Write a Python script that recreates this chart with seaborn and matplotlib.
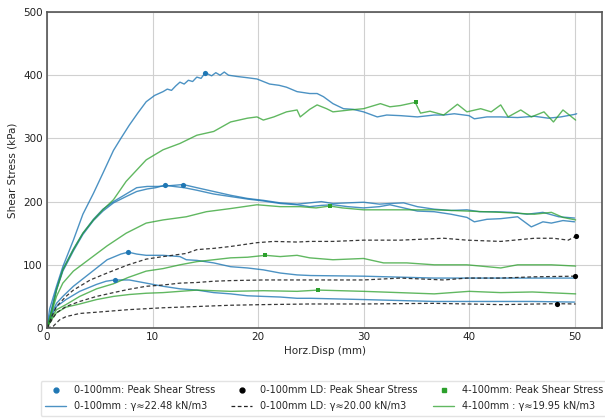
import numpy as np
import pandas as pd
import matplotlib
matplotlib.use("Agg")
import matplotlib.pyplot as plt
import seaborn as sns
from matplotlib.lines import Line2D

# 0-100mm : gamma = 22.48 kN/m3 (blue)
blue_a_x = [0, 0.25, 0.9, 1.5, 2.5, 3.4, 4.4, 5.3, 6.3, 7.0, 7.8, 8.6, 9.4, 10.2, 11.0, 11.4, 11.8, 12.2, 12.6, 13.0,
            13.4, 13.8, 14.2, 14.6, 15.0, 15.6, 16.0, 16.4, 16.8, 17.2, 18.0, 19.0, 19.9, 21.1, 22.0, 22.7, 23.7, 24.9,
            25.6, 26.2, 27.1, 28.1, 29.0, 30.0, 31.3, 32.2, 33.5, 35.1, 36.7, 37.6, 38.6, 40.0, 40.5, 41.7, 43.0,
            44.6, 46.2, 47.5, 48.7, 50.0, 50.2]
blue_a_y = [0, 30, 66, 97, 139, 180, 213, 245, 281, 300, 321, 340, 358, 368, 374, 378, 376, 383, 389, 386,
            392, 390, 397, 395, 404, 399, 404, 400, 405, 400, 398, 396, 394, 386, 384, 381, 374, 371,
            371, 366, 355, 347, 346, 342, 334, 337, 336, 334, 337, 337, 339, 336, 331, 334, 334,
            333, 335, 332, 334, 338, 339]
blue_b_x = [0, 0.9, 1.5, 2.5, 3.4, 4.4, 5.3, 6.3, 7.5, 8.5, 9.5, 10.3, 11.2, 12.0, 13.0, 14.2, 15.8, 17.4, 19.0,
            20.5, 22.1, 23.7, 24.9, 26.0, 27.1, 28.5, 30.0, 31.5, 32.5, 33.8, 35.1, 36.7, 38.3, 39.8, 40.5, 41.7,
            43.0, 44.6, 45.9, 47.0, 47.8, 48.9, 50.0]
blue_b_y = [0, 60, 90, 122, 148, 170, 185, 198, 208, 216, 220, 222, 226, 224, 222, 218, 212, 208, 204,
            201, 197, 195, 192, 194, 195, 192, 190, 192, 195, 190, 185, 184, 180, 175, 168, 172,
            173, 176, 160, 168, 166, 170, 168]
blue_c_x = [0, 0.9, 1.5, 2.5, 3.4, 4.4, 5.3, 6.3, 7.5, 8.5, 9.5, 10.5, 11.5, 12.9, 14.2, 15.8, 17.4, 19.0, 20.5,
            22.1, 23.7, 24.9, 26.0, 27.1, 28.5, 30.0, 31.5, 32.5, 33.8, 35.1, 36.7, 38.3, 39.8, 41.0, 42.5, 44.0,
            45.5, 47.0, 48.5, 50.0]
blue_c_y = [0, 62, 93, 125, 150, 172, 188, 200, 212, 222, 224, 224, 225, 227, 222, 216, 210, 205, 202,
            198, 196, 198, 200, 197, 198, 199, 196, 197, 198, 192, 188, 186, 187, 184, 184, 183,
            180, 183, 176, 174]
blue_d_x = [0, 0.5, 0.9, 1.5, 2.5, 4.1, 5.7, 7.0, 7.7, 8.5, 9.4, 11.0, 12.6, 13.2, 14.2, 15.8, 17.4, 19.0, 20.5,
            22.1, 23.7, 25.0, 30.0, 36.7, 40.0, 46.0, 50.0]
blue_d_y = [0, 25, 39, 50, 66, 87, 108, 117, 120, 117, 115, 115, 113, 108, 107, 103, 97, 95, 92,
            87, 84, 83, 82, 79, 79, 79, 79]
blue_e_x = [0, 0.5, 0.9, 1.8, 3.1, 4.7, 5.6, 6.4, 7.8, 9.4, 11.0, 12.6, 14.2, 15.8, 17.4, 19.0, 20.5, 22.1, 23.7,
            25.0, 30.0, 36.7, 40.0, 46.0, 50.0]
blue_e_y = [0, 22, 34, 45, 58, 69, 74, 76, 76, 71, 66, 62, 60, 56, 54, 51, 50, 49, 47,
            47, 45, 42, 42, 42, 41]
blue_peak_x = [15.0, 11.2, 12.9, 7.7, 6.4]
blue_peak_y = [404, 226, 227, 120, 76]

# 0-100mm LD : gamma = 20.00 kN/m3 (black dashed)
ld_a_x = [0, 0.5, 0.9, 1.8, 2.5, 4.1, 5.7, 7.7, 9.4, 11.0, 13.2, 14.2, 15.8, 17.4, 19.9, 21.5, 23.7, 24.9, 27.1,
          30.0, 33.5, 37.6, 39.8, 43.0, 46.2, 48.0, 49.4, 50.1]
ld_a_y = [0, 20, 34, 50, 60, 76, 87, 100, 109, 113, 118, 124, 126, 129, 135, 137, 136, 137, 137,
          139, 139, 142, 139, 137, 142, 142, 139, 145]
ld_b_x = [0, 0.5, 0.9, 1.8, 3.1, 4.7, 6.3, 7.7, 9.4, 11.0, 12.6, 14.2, 15.8, 17.4, 20.5, 25.0, 30.0, 33.5, 37.6,
          39.8, 43.0, 46.2, 50.0]
ld_b_y = [0, 14, 24, 34, 42, 50, 56, 61, 66, 68, 71, 72, 74, 75, 76, 76, 76, 79, 76,
          79, 79, 81, 82]
ld_c_x = [0, 0.6, 1.2, 1.8, 3.1, 4.7, 7.7, 11.0, 14.2, 17.4, 20.5, 24.9, 30.0, 36.7, 43.0, 48.3, 50.1]
ld_c_y = [0, 3, 13, 18, 23, 25, 29, 32, 34, 36, 37, 38, 38, 39, 37, 38.5, 38]
ld_peak_x = [50.1, 50.0, 48.3]
ld_peak_y = [145, 82, 38.5]

# 4-100mm : gamma = 19.95 kN/m3 (green)
green_a_x = [0, 0.5, 0.9, 1.5, 2.5, 3.4, 4.4, 5.3, 6.3, 7.5, 9.4, 11.0, 12.6, 14.2, 15.8, 17.4, 19.0, 19.9, 20.5,
             21.5, 22.7, 23.7, 24.0, 24.9, 25.6, 26.5, 27.1, 28.7, 30.0, 31.6, 32.5, 33.5, 34.9, 35.4, 36.3, 37.6,
             38.9, 39.8, 41.1, 42.1, 43.0, 43.7, 44.9, 45.9, 47.1, 48.0, 48.9, 49.5, 50.1]
green_a_y = [0, 30, 60, 92, 124, 150, 171, 187, 203, 232, 266, 282, 292, 305, 311, 326, 332, 334, 329,
             334, 342, 345, 334, 346, 353, 347, 342, 345, 347, 355, 350, 352, 357, 340, 343, 337,
             354, 342, 347, 342, 353, 334, 345, 334, 342, 326, 345, 337, 329]
green_b_x = [0, 0.5, 0.9, 1.5, 2.5, 4.1, 5.7, 7.5, 9.4, 11.0, 13.2, 15.1, 17.4, 19.9, 22.1, 24.0, 25.5, 26.8, 28.0,
             30.0, 33.5, 36.7, 39.8, 43.0, 46.2, 47.8, 48.9, 50.1]
green_b_y = [0, 28, 50, 71, 90, 110, 130, 150, 166, 171, 176, 184, 189, 195, 192, 192, 190, 193, 190,
             187, 187, 187, 185, 183, 180, 183, 175, 171]
green_c_x = [0, 0.5, 0.9, 1.8, 3.1, 4.7, 6.3, 7.7, 9.4, 11.0, 12.6, 14.2, 15.8, 17.4, 19.0, 20.7, 22.1, 23.7, 24.9,
             27.1, 30.0, 31.9, 34.1, 36.7, 39.8, 43.0, 44.6, 47.8, 50.1]
green_c_y = [0, 18, 29, 37, 50, 62, 70, 80, 90, 94, 100, 105, 108, 111, 112, 115, 113, 115, 111,
             108, 110, 103, 103, 100, 100, 95, 100, 100, 98]
green_d_x = [0, 0.5, 0.9, 1.8, 3.1, 4.7, 6.3, 7.8, 9.4, 11.0, 12.6, 14.2, 17.4, 20.5, 23.7, 25.7, 30.0, 36.7, 40.0,
             43.0, 46.0, 50.1]
green_d_y = [0, 15, 24, 33, 38, 45, 50, 53, 55, 56, 58, 60, 58, 59, 58, 60, 58, 54, 58,
             56, 57, 54]
green_peak_x = [35.0, 26.8, 20.7, 25.7]
green_peak_y = [357, 193, 115, 60]

BLUE = "#1f77b4"
GREEN = "#2ca02c"

sns.set_style("whitegrid")
plt.rcParams["font.family"] = ["DejaVu Sans"]
plt.rcParams["font.size"] = 7.5

fig = plt.figure(figsize=(6.05, 4.19), dpi=100)
ax = fig.add_axes([47 / 605, 1 - 328 / 419, 555 / 605, 316 / 419])

blue_curves = [(blue_a_x, blue_a_y), (blue_b_x, blue_b_y), (blue_c_x, blue_c_y),
               (blue_d_x, blue_d_y), (blue_e_x, blue_e_y)]
green_curves = [(green_a_x, green_a_y), (green_b_x, green_b_y), (green_c_x, green_c_y), (green_d_x, green_d_y)]
ld_curves = [(ld_a_x, ld_a_y), (ld_b_x, ld_b_y), (ld_c_x, ld_c_y)]

for xs, ys in blue_curves:
    sns.lineplot(x=xs, y=ys, ax=ax, color=BLUE, lw=1.0, alpha=0.8, sort=False, estimator=None)
for xs, ys in green_curves:
    sns.lineplot(x=xs, y=ys, ax=ax, color=GREEN, lw=1.0, alpha=0.75, sort=False, estimator=None)
for xs, ys in ld_curves:
    sns.lineplot(x=xs, y=ys, ax=ax, color="#222222", lw=0.9, ls=(0, (3, 2)), alpha=0.9,
                 sort=False, estimator=None)

sns.scatterplot(x=blue_peak_x, y=blue_peak_y, ax=ax, color=BLUE, marker="o", s=14, linewidth=0, zorder=5)
sns.scatterplot(x=ld_peak_x, y=ld_peak_y, ax=ax, color="black", marker="o", s=14, linewidth=0, zorder=5)
sns.scatterplot(x=green_peak_x, y=green_peak_y, ax=ax, color=GREEN, marker="s", s=12, linewidth=0, zorder=5)

ax.set_xlim(0, 52.6)
ax.set_ylim(0, 500)
ax.set_xticks([0, 10, 20, 30, 40, 50])
ax.set_yticks([0, 100, 200, 300, 400, 500])
ax.set_xlabel("Horz.Disp (mm)", labelpad=3)
ax.set_ylabel("Shear Stress (kPa)", labelpad=4)
ax.tick_params(length=0, pad=3, colors="#222222")
ax.grid(True, color="#d0d0d0", lw=0.8)
for sp in ax.spines.values():
    sp.set_color("#555555")
    sp.set_linewidth(1.2)

handles = [
    Line2D([], [], ls="", marker="o", ms=3.5, color=BLUE),
    Line2D([], [], color=BLUE, lw=1.0, alpha=0.8),
    Line2D([], [], ls="", marker="o", ms=3.5, color="black"),
    Line2D([], [], color="#222222", lw=0.9, ls=(0, (3, 2))),
    Line2D([], [], ls="", marker="s", ms=3.2, color=GREEN),
    Line2D([], [], color=GREEN, lw=1.0, alpha=0.75),
]
labels = [
    "0-100mm: Peak Shear Stress",
    "0-100mm : γ≈22.48 kN/m3",
    "0-100mm LD: Peak Shear Stress",
    "0-100mm LD: γ≈20.00 kN/m3",
    "4-100mm: Peak Shear Stress",
    "4-100mm : γ≈19.95 kN/m3",
]
fig.legend(handles, labels, ncol=3, loc="upper left", bbox_to_anchor=(40.5 / 605, 1 - 381 / 419),
           frameon=True, fontsize=7.0, columnspacing=1.65, handlelength=2.2, handletextpad=0.75,
           borderpad=0.45, borderaxespad=0, labelspacing=0.6, edgecolor="#dddddd", fancybox=True)

fig.savefig("out.png", dpi=100)
